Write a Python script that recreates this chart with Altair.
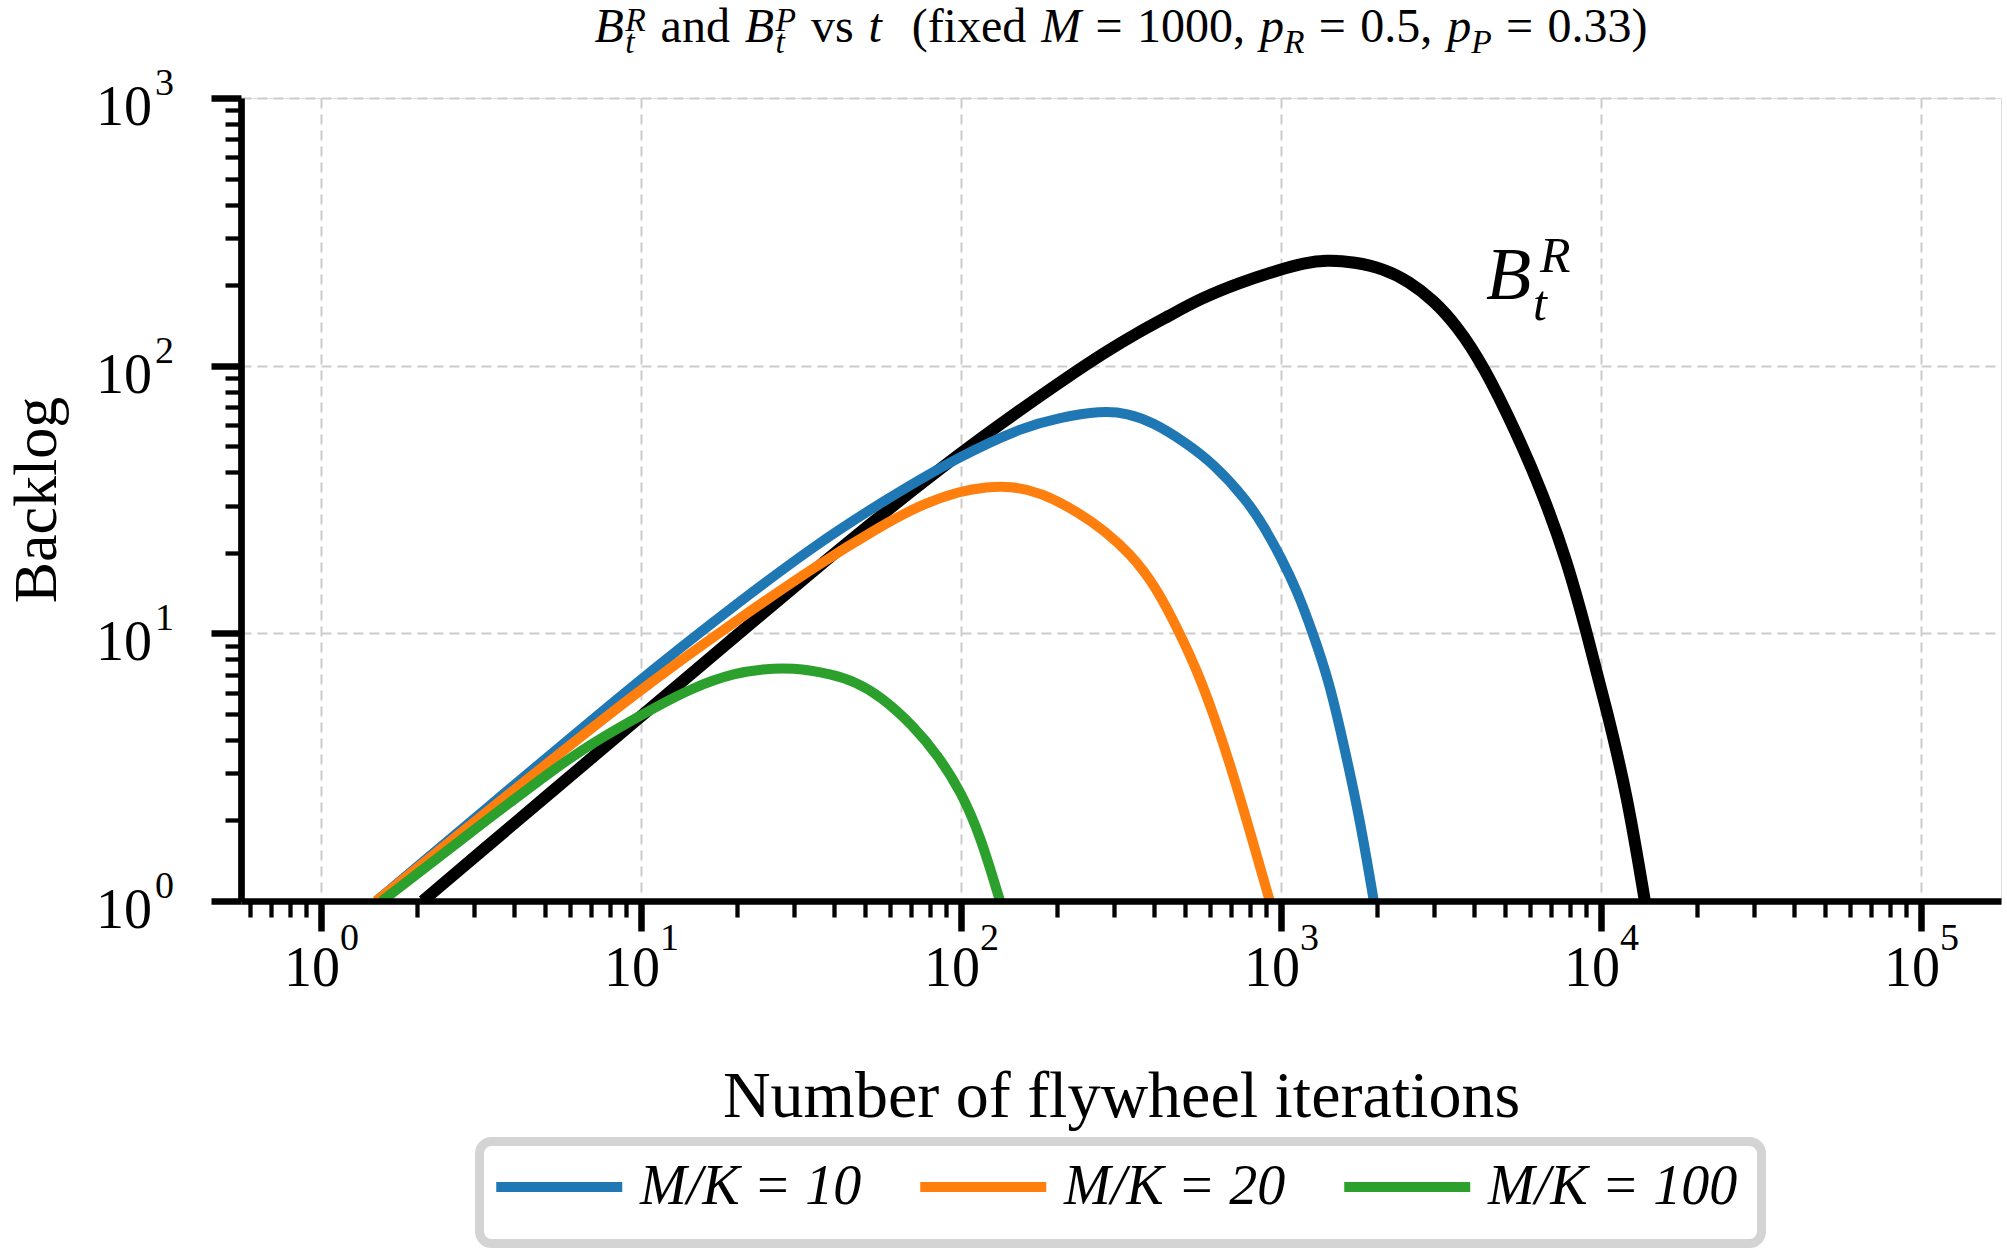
import altair as alt
import pandas as pd

# ---------------- data ----------------
black_t = [2.08, 3.16, 5.0, 10, 19.95, 35.5, 55.7, 100, 147.9, 213.8, 281.8, 354.8, 446.7,
           558.5, 741.3, 1000, 1175, 1390, 1698, 2089, 2512, 2992, 3548, 4285, 5458, 6531,
           7816, 9036, 10423, 12050, 13710]
black_b = [1.0, 1.53, 2.43, 4.90, 9.84, 17.6, 27.4, 47.4, 66.4, 90.2, 112.2, 132.4, 153.5,
           177.8, 204.2, 229.1, 241.5, 248.3, 243.8, 230.7, 206.5, 175.8, 140.9, 100.5, 55.8,
           33.9, 18.8, 10.0, 5.16, 2.52, 1.0]

blue_t = [1.49, 3.16, 10, 19.95, 35.5, 55.7, 100, 158.5, 199.5, 275.4, 331.1, 398.1, 501.2,
          613.8, 781.6, 891.3, 1000, 1122, 1259, 1413, 1567, 1758, 1950]
blue_b = [1.0, 2.13, 6.79, 12.94, 21.6, 30.6, 46.3, 59.2, 63.7, 67.9, 66.4, 61.5, 51.8,
          43.2, 31.5, 24.7, 19.2, 14.45, 10.0, 6.61, 3.89, 2.07, 1.0]

orange_t = [1.49, 3.16, 10, 19.95, 35.5, 55.7, 74.1, 100, 120.2, 142.2, 177.8, 235.5, 281.8,
            337.3, 407.4, 483.1, 549.5, 613.8, 691.8, 781.6, 922.6]
orange_b = [1.0, 2.07, 6.24, 11.2, 18.0, 25.0, 30.1, 34.1, 35.2, 35.5, 33.7, 28.1, 24.1,
            19.9, 14.9, 10.0, 7.14, 5.02, 3.27, 2.0, 1.0]

green_t = [1.55, 2.72, 5.57, 7.41, 10, 14.55, 19.86, 23.99, 29.5, 39.8, 46.8, 55.7, 71.0,
           85.1, 100, 114.6, 132.4]
green_b = [1.0, 1.68, 3.24, 4.03, 4.95, 6.31, 7.13, 7.35, 7.46, 7.03, 6.58, 5.86, 4.52,
           3.47, 2.56, 1.77, 1.0]

series_names = ["M/K = 10", "M/K = 20", "M/K = 100"]
series_colors = ["#1f77b4", "#ff7f0e", "#2ca02c"]

x_major = [1, 10, 100, 1000, 10000, 100000]
x_exps = ["0", "1", "2", "3", "4", "5"]
y_major = [1, 10, 100, 1000]
y_exps = ["0", "1", "2", "3"]

annot_t = [4375]
annot_b = [177.4]

# title pieces: (text, italic, relative size, baseline shift in em, gap before in em, stacked)
title_pieces = [
    ("B", True, 1.0, 0.0, 0.0, False),
    ("R", True, 0.7, -0.22, 0.03, False),
    ("t", True, 0.7, 0.22, 0.0, True),
    ("and", False, 1.0, 0.0, 0.31, False),
    ("B", True, 1.0, 0.0, 0.31, False),
    ("P", True, 0.7, -0.22, 0.03, False),
    ("t", True, 0.7, 0.22, 0.0, True),
    ("vs", False, 1.0, 0.0, 0.31, False),
    ("t", True, 1.0, 0.0, 0.31, False),
    ("(fixed", False, 1.0, 0.0, 0.62, False),
    ("M", True, 1.0, 0.0, 0.31, False),
    ("=", False, 1.0, 0.0, 0.3, False),
    ("1000,", False, 1.0, 0.0, 0.3, False),
    ("p", True, 1.0, 0.0, 0.31, False),
    ("R", True, 0.7, 0.22, 0.0, False),
    ("=", False, 1.0, 0.0, 0.3, False),
    ("0.5,", False, 1.0, 0.0, 0.3, False),
    ("p", True, 1.0, 0.0, 0.31, False),
    ("P", True, 0.7, 0.22, 0.0, False),
    ("=", False, 1.0, 0.0, 0.3, False),
    ("0.33)", False, 1.0, 0.0, 0.3, False),
]

# ---------------- layout ----------------
W, H = 1760, 803
FONT = "Liberation Serif"
XMIN, XMAX = 10 ** -0.25, 10 ** 5.25
x_minor = [m * 10 ** k for k in range(-1, 6) for m in range(2, 10) if XMIN <= m * 10 ** k <= XMAX]
y_minor = [m * 10 ** k for k in range(0, 3) for m in range(2, 10)]

xs = alt.Scale(type="log", domain=[XMIN, XMAX], nice=False)
ys = alt.Scale(type="log", domain=[1, 1000], nice=False)

black_df = pd.DataFrame({"t": black_t, "b": black_b})
curves_df = pd.concat([
    pd.DataFrame({"t": blue_t, "b": blue_b, "series": series_names[0], "k": 0}),
    pd.DataFrame({"t": orange_t, "b": orange_b, "series": series_names[1], "k": 1}),
    pd.DataFrame({"t": green_t, "b": green_b, "series": series_names[2], "k": 2}),
], ignore_index=True)
anchor_df = pd.DataFrame({"t": [1.0], "b": [1.0]})
xlab_df = pd.DataFrame({"t": x_major, "base": ["10"] * len(x_major), "exp": x_exps})
ylab_df = pd.DataFrame({"b": y_major, "base": ["10"] * len(y_major), "exp": y_exps})
annot_df = pd.DataFrame({"t": annot_t, "b": annot_b})

NOX = alt.X("t:Q", scale=xs, axis=None)
NOY = alt.Y("b:Q", scale=ys, axis=None)

grid_common = dict(grid=True, gridColor="#cccccc", gridDash=[10, 6], gridWidth=2,
                   domain=False, ticks=False, labels=False, title=None, zindex=0)
grid_layer = alt.Chart(anchor_df).mark_point(opacity=0).encode(
    x=alt.X("t:Q", scale=xs, axis=alt.Axis(orient="bottom", values=x_major, **grid_common)),
    y=alt.Y("b:Q", scale=ys, axis=alt.Axis(orient="left", values=y_major, **grid_common)),
)

black_layer = alt.Chart(black_df).mark_line(
    color="black", strokeWidth=12, interpolate="basis", clip=True
).encode(x=NOX, y=NOY)

color_layer = alt.Chart(curves_df).mark_line(
    strokeWidth=10, interpolate="basis", clip=True
).encode(
    x=NOX, y=NOY,
    color=alt.Color("series:N", scale=alt.Scale(domain=series_names, range=series_colors),
                    legend=alt.Legend(
                        orient="none", legendX=243, legendY=1061, direction="horizontal",
                        title=None, symbolType="M-1,0H7", symbolSize=992, symbolStrokeWidth=10,
                        labelFont=FONT, labelFontSize=56, labelFontStyle="italic",
                        labelColor="black", labelOffset=100, labelLimit=0,
                        columnPadding=38, padding=0)),
    detail="k:N",
)

# legend frame
legend_frame = alt.Chart(anchor_df).mark_rect(
    fillOpacity=0, stroke="#d4d4d4", strokeWidth=9, cornerRadius=12
).encode(x=alt.value(238.5), x2=alt.value(1520.5), y=alt.value(1043.5), y2=alt.value(1145.5))

main_common = dict(domain=True, domainColor="black", domainWidth=6.7, ticks=True,
                   tickColor="black", tickWidth=6.5, tickSize=30, labels=False, grid=False,
                   titleFont=FONT, titleFontWeight="normal", titleColor="black", zindex=1)
main_axis_layer = alt.Chart(anchor_df).mark_point(opacity=0).encode(
    x=alt.X("t:Q", scale=xs, axis=alt.Axis(
        orient="bottom", values=x_major, title="Number of flywheel iterations",
        titleFontSize=66, titleX=W / 2, titleY=215, titleAlign="center",
        titleBaseline="alphabetic", **main_common)),
    y=alt.Y("b:Q", scale=ys, axis=alt.Axis(
        orient="left", values=y_major, title="Backlog", titleFontSize=62,
        titleAngle=270, titleX=-186, titleY=H / 2, titleAlign="center",
        titleBaseline="alphabetic", **main_common)),
)

minor_common = dict(domain=False, ticks=True, tickColor="black", tickWidth=4.3, tickSize=16,
                    labels=False, grid=False, title=None, zindex=1)
minor_axis_layer = alt.Chart(anchor_df).mark_point(opacity=0).encode(
    x=alt.X("t:Q", scale=xs, axis=alt.Axis(orient="bottom", values=x_minor, **minor_common)),
    y=alt.Y("b:Q", scale=ys, axis=alt.Axis(orient="left", values=y_minor, **minor_common)),
)

xbase = alt.Chart(xlab_df).mark_text(
    font=FONT, fontSize=56, align="center", baseline="alphabetic", dx=-9, color="black"
).encode(x=alt.X("t:Q", scale=xs, axis=None), y=alt.value(888), text="base:N")
xexp = alt.Chart(xlab_df).mark_text(
    font=FONT, fontSize=38, align="left", baseline="alphabetic", dx=19, color="black"
).encode(x=alt.X("t:Q", scale=xs, axis=None), y=alt.value(852), text="exp:N")

ybase = alt.Chart(ylab_df).mark_text(
    font=FONT, fontSize=56, align="right", baseline="alphabetic", dy=27, color="black"
).encode(x=alt.value(-89), y=alt.Y("b:Q", scale=ys, axis=None), text="base:N")
yexp = alt.Chart(ylab_df).mark_text(
    font=FONT, fontSize=38, align="left", baseline="alphabetic", dy=-3, color="black"
).encode(x=alt.value(-86), y=alt.Y("b:Q", scale=ys, axis=None), text="exp:N")

anno_B = alt.Chart(annot_df).mark_text(
    text="B", font=FONT, fontSize=74, fontStyle="italic", align="left",
    baseline="alphabetic", color="black"
).encode(x=NOX, y=NOY)
anno_R = alt.Chart(annot_df).mark_text(
    text="R", font=FONT, fontSize=50, fontStyle="italic", align="left",
    baseline="alphabetic", dx=54, dy=-27, color="black"
).encode(x=NOX, y=NOY)
anno_t = alt.Chart(annot_df).mark_text(
    text="t", font=FONT, fontSize=50, fontStyle="italic", align="left",
    baseline="alphabetic", dx=47, dy=21, color="black"
).encode(x=NOX, y=NOY)

# ---- title composed from pieces (Times metrics) ----
ROMAN = {"a": .444, "n": .5, "d": .5, "v": .5, "s": .389, "(": .333, ")": .333, "f": .333,
         "i": .278, "x": .5, "e": .444, "=": .564, ".": .25, ",": .25}
ITAL = {"B": .611, "R": .611, "P": .611, "t": .278, "M": .833, "p": .5}


def width_em(txt, italic):
    tab = ITAL if italic else ROMAN
    return sum(tab.get(c, 0.5) for c in txt)


TS = 48
positions = []
cur = 0.0
prev_start = 0.0
for text, it, rel, shift, gap, stacked in title_pieces:
    adv = width_em(text, it) * rel
    if stacked:
        start = prev_start
        cur = max(cur, start + adv)
    else:
        start = cur + gap
        cur = start + adv
    positions.append(start)
    prev_start = start
total_w = cur * TS
x0 = W / 2 - total_w / 2
TITLE_BASE = -56

title_layers = []
for (text, it, rel, shift, gap, stacked), start in zip(title_pieces, positions):
    title_layers.append(
        alt.Chart(anchor_df).mark_text(
            text=text, font=FONT, fontSize=TS * rel, fontStyle="italic" if it else "normal",
            align="left", baseline="alphabetic", color="black"
        ).encode(x=alt.value(x0 + start * TS), y=alt.value(TITLE_BASE + shift * TS))
    )

chart = alt.layer(
    grid_layer, black_layer, color_layer, main_axis_layer, minor_axis_layer,
    xbase, xexp, ybase, yexp, anno_B, anno_R, anno_t, legend_frame, *title_layers
).resolve_axis(x="independent", y="independent").properties(
    width=W, height=H,
    padding={"left": 241, "top": 98, "right": 6, "bottom": 348},
    autosize=alt.AutoSizeParams(type="none"),
).configure_view(stroke=None).configure(background="white")

chart.save("out.html", embed_options={"renderer": "svg", "actions": False})
